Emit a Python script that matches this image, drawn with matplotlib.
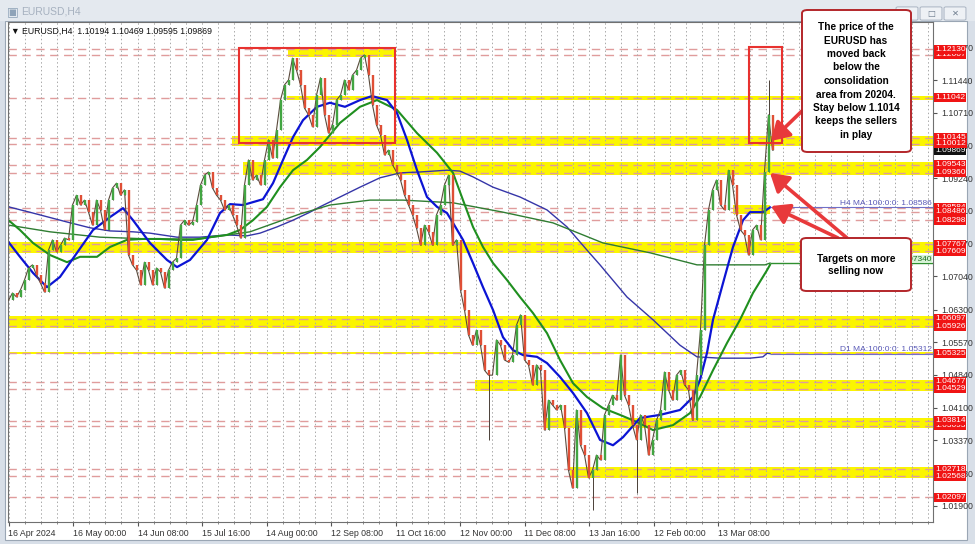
import numpy as np
import matplotlib
matplotlib.use("Agg")
import matplotlib.pyplot as plt
import matplotlib.transforms as mtransforms
from matplotlib.patches import Rectangle, FancyBboxPatch

plt.rcParams['font.family'] = ['Liberation Sans', 'DejaVu Sans']

# EURUSD H4 closes, one sample every 8 bars
bar_step = 8
closes = [1.0651, 1.0667, 1.0658, 1.0674, 1.0696, 1.0723, 1.0730, 1.0707, 1.0689, 1.0669,
          1.0763, 1.0786, 1.0759, 1.0774, 1.0790, 1.0786, 1.0864, 1.0886, 1.0864, 1.0875,
          1.0848, 1.0819, 1.0875, 1.0853, 1.0808, 1.0875, 1.0902, 1.0913, 1.0886, 1.0898,
          1.0752, 1.0730, 1.0718, 1.0685, 1.0736, 1.0718, 1.0685, 1.0723, 1.0714, 1.0678,
          1.0718, 1.0736, 1.0745, 1.0819, 1.0830, 1.0819, 1.0826, 1.0864, 1.0909, 1.0931,
          1.0938, 1.0902, 1.0886, 1.0875, 1.0853, 1.0864, 1.0842, 1.0819, 1.0790, 1.0909,
          1.0965, 1.0920, 1.0931, 1.0909, 1.0965, 1.1010, 1.0969, 1.1032, 1.1099, 1.1133,
          1.1144, 1.1193, 1.1166, 1.1133, 1.1081, 1.1066, 1.1039, 1.1110, 1.1149, 1.1066,
          1.1025, 1.1043, 1.1099, 1.1110, 1.1144, 1.1122, 1.1155, 1.1166, 1.1193, 1.1200,
          1.1155, 1.1088, 1.1043, 1.1021, 1.0976, 1.0987, 1.0954, 1.0938, 1.0920, 1.0886,
          1.0864, 1.0842, 1.0812, 1.0774, 1.0819, 1.0804, 1.0774, 1.0842, 1.0864, 1.0909,
          1.0931, 1.0774, 1.0786, 1.0674, 1.0629, 1.0573, 1.0550, 1.0584, 1.0550, 1.0494,
          1.0483, 1.0483, 1.0562, 1.0550, 1.0517, 1.0512, 1.0528, 1.0595, 1.0618, 1.0517,
          1.0506, 1.0461, 1.0506, 1.0494, 1.0360, 1.0427, 1.0416, 1.0405, 1.0416, 1.0365,
          1.0270, 1.0230, 1.0405, 1.0326, 1.0304, 1.0253, 1.0270, 1.0304, 1.0293, 1.0394,
          1.0416, 1.0438, 1.0427, 1.0528, 1.0438, 1.0416, 1.0371, 1.0338, 1.0394, 1.0371,
          1.0304, 1.0338, 1.0382, 1.0405, 1.0490, 1.0450, 1.0427, 1.0483, 1.0494, 1.0461,
          1.0450, 1.0382, 1.0483, 1.0584, 1.0774, 1.0853, 1.0898, 1.0920, 1.0864, 1.0853,
          1.0942, 1.0909, 1.0842, 1.0808, 1.0797, 1.0752, 1.0808, 1.0819, 1.0786, 1.0938,
          1.1066, 1.0987]
spike_idx = [120, 146, 157, 190]
spike_price = [1.0338, 1.0181, 1.0219, 1.1144]

# moving averages (bar number, price)
h4_100_bar = [0, 23, 49, 77, 103, 137, 169, 203, 229, 249, 283, 317, 337, 363, 397, 423, 443,
              469, 509, 529, 549, 569, 589, 617, 643, 673, 703, 727, 757, 777, 797, 817, 837,
              857, 877, 889, 909, 929, 949, 969, 989, 1009, 1029, 1057, 1077, 1103, 1129, 1157,
              1183, 1209, 1229, 1263, 1303, 1343, 1369, 1383, 1397, 1409, 1429, 1449, 1469,
              1483, 1509, 1523]
h4_100 = [1.0781, 1.0748, 1.0712, 1.0680, 1.0703, 1.0757, 1.0808, 1.0837, 1.0857, 1.0830,
          1.0779, 1.0741, 1.0725, 1.0741, 1.0786, 1.0846, 1.0866, 1.0864, 1.0877, 1.0913,
          1.0965, 1.1016, 1.1054, 1.1084, 1.1093, 1.1084, 1.1099, 1.1108, 1.1099, 1.1070,
          1.1010, 1.0942, 1.0882, 1.0860, 1.0846, 1.0824, 1.0786, 1.0734, 1.0680, 1.0629,
          1.0568, 1.0539, 1.0528, 1.0524, 1.0510, 1.0479, 1.0443, 1.0398, 1.0338, 1.0326,
          1.0344, 1.0387, 1.0394, 1.0405, 1.0434, 1.0472, 1.0533, 1.0607, 1.0689, 1.0770,
          1.0830, 1.0848, 1.0848, 1.08586]
h4_200_bar = [0, 23, 49, 83, 117, 143, 177, 203, 237, 269, 303, 337, 369, 403, 437, 463, 489,
              517, 543, 569, 597, 623, 663, 703, 737, 777, 817, 857, 889, 909, 929, 949, 969,
              997, 1023, 1049, 1077, 1103, 1129, 1157, 1189, 1223, 1257, 1289, 1329, 1363,
              1383, 1409, 1437, 1463, 1489, 1517, 1523]
h4_200 = [1.0830, 1.0808, 1.0779, 1.0752, 1.0736, 1.0748, 1.0748, 1.0770, 1.0786, 1.0788,
          1.0788, 1.0786, 1.0786, 1.0792, 1.0797, 1.0808, 1.0830, 1.0860, 1.0904, 1.0942,
          1.0965, 1.0994, 1.1048, 1.1084, 1.1099, 1.1077, 1.1025, 1.0981, 1.0936, 1.0875,
          1.0815, 1.0770, 1.0734, 1.0696, 1.0658, 1.0622, 1.0577, 1.0517, 1.0465, 1.0434,
          1.0409, 1.0394, 1.0378, 1.0360, 1.0371, 1.0398, 1.0434, 1.0494, 1.0555, 1.0607,
          1.0667, 1.0718, 1.0730]
d1_100_bar = [0, 49, 117, 163, 203, 249, 283, 337, 383, 437, 477, 503, 537, 569, 603, 623,
              663, 703, 743, 783, 823, 877, 903, 929, 969, 1023, 1077, 1117, 1157, 1183, 1237,
              1289, 1343, 1377, 1423, 1483, 1509, 1517, 1523]
d1_100 = [1.0860, 1.0846, 1.0826, 1.0813, 1.0806, 1.0804, 1.0801, 1.0792, 1.0792, 1.0797,
          1.0795, 1.0801, 1.0815, 1.0830, 1.0848, 1.0860, 1.0882, 1.0904, 1.0925, 1.0936,
          1.0938, 1.0942, 1.0940, 1.0927, 1.0904, 1.0882, 1.0853, 1.0815, 1.0763, 1.0730,
          1.0658, 1.0607, 1.0550, 1.0524, 1.0521, 1.0521, 1.0524, 1.0532, 1.05312]
d1_200_bar = [0, 83, 183, 283, 383, 483, 583, 643, 723, 789, 889, 989, 1089, 1189, 1283,
              1377, 1513, 1523]
d1_200 = [1.0819, 1.0804, 1.0792, 1.0788, 1.0788, 1.0804, 1.0844, 1.0864, 1.0875, 1.0875,
          1.0869, 1.0848, 1.0824, 1.0779, 1.0757, 1.0730, 1.0730, 1.0734]

# horizontal levels with their price-scale tags (listed in drawing order)
level_prices = [1.12007, 1.12130, 1.11042, 1.10145, 1.10012, 1.09543, 1.09360, 1.08584,
                1.08486, 1.08298, 1.07767, 1.07609, 1.06097, 1.05926, 1.05325, 1.04677,
                1.04529, 1.03693, 1.03814, 1.02718, 1.02568, 1.02097]
last_price = 1.09869

# yellow zones: top, bottom, first bar, last bar
zone_top = [1.12130, 1.11042, 1.10145, 1.09543, 1.08586, 1.07767, 1.06097, 1.05325, 1.04677,
            1.03814, 1.02718]
zone_bottom = [1.12007, 1.11042, 1.10012, 1.09360, 1.08486, 1.07609, 1.05926, 1.05325,
               1.04529, 1.03693, 1.02568]
zone_from = [559, 557, 447, 469, 1449, 0, 0, 0, 933, 1073, 1123]
zone_to = [773, 1849, 1849, 1849, 1523, 1849, 1849, 1849, 1849, 1849, 1849]

# red boxes: first bar, last bar, low, high
box_from = [461, 1481]
box_to = [773, 1547]
box_low = [1.10029, 1.10029]
box_high = [1.12157, 1.12180]

y_ticks = [1.12170, 1.11440, 1.10710, 1.09980, 1.09240, 1.08510, 1.07770, 1.07040, 1.06300,
           1.05570, 1.04840, 1.04100, 1.03370, 1.02630, 1.01900]
x_labels = ['16 Apr 2024', '16 May 00:00', '14 Jun 08:00', '15 Jul 16:00', '14 Aug 00:00',
            '12 Sep 08:00', '11 Oct 16:00', '12 Nov 00:00', '11 Dec 08:00', '13 Jan 16:00',
            '12 Feb 00:00', '13 Mar 08:00']
bars_per_label = 129

W, H = 975, 544


def fx(px):
    return px / W


def fy(py):
    return 1 - py / H


fig = plt.figure(figsize=(W / 100, H / 100), dpi=100)
fig.patch.set_facecolor('#d8dfe8')
fig.add_artist(Rectangle((fx(5), fy(540)), fx(962), 519 / H, transform=fig.transFigure,
                         fc='white', ec='#9aa6b4', lw=0.8, zorder=0))
fig.add_artist(Rectangle((fx(0), fy(21)), 1, 21 / H, transform=fig.transFigure,
                         fc='#e4e9ef', ec='none', zorder=0))
fig.text(fx(7), fy(12), '\u25a3', fontsize=9, color='#8fa3b8', va='center', family=['DejaVu Sans'])
fig.text(fx(21), fy(12), 'EURUSD,H4', fontsize=7.5, color='#a6b1bf', va='center')
for bx in (898, 922, 946):
    fig.add_artist(FancyBboxPatch((fx(bx), fy(19)), fx(18), 11 / H, transform=fig.transFigure,
                                  boxstyle='round,pad=0.002', fc='#eef1f5', ec='#a9b4c2', lw=0.7))
fig.text(fx(931), fy(13.5), '\u25a1', fontsize=6, color='#6d7c8d', ha='center', va='center',
         family=['DejaVu Sans'])
fig.text(fx(955), fy(13.5), '\u2715', fontsize=6, color='#6d7c8d', ha='center', va='center',
         family=['DejaVu Sans'])

ax = fig.add_axes([fx(8), fy(522), 925 / W, 500 / H])
ax.set_facecolor('white')
ax.set_xlim(-1, 1849)
ax.set_ylim(1.01541, 1.12739)

# grid (vertical only, dotted)
ax.set_xticks(np.arange(0, 1849, bars_per_label / 4), minor=True)
ax.set_xticks(np.arange(len(x_labels)) * bars_per_label)
ax.set_xticklabels(x_labels, ha='left', fontsize=6.3, color='#333333')
ax.grid(axis='x', which='both', color='#a9a9a9', lw=0.7, linestyle=(0, (1.5, 2.5)))
ax.tick_params(axis='x', which='major', length=3, pad=2, color='#555555')
ax.tick_params(axis='x', which='minor', length=1.5, color='#777777')

ax.yaxis.tick_right()
ax.set_yticks(y_ticks)
ax.set_yticklabels([f'{v:.5f}' for v in y_ticks], fontsize=6.3, color='#333333')
ax.tick_params(axis='y', length=3, pad=3, color='#555555')
for s in ax.spines.values():
    s.set_color('#707070')
    s.set_linewidth(0.8)

# yellow zones and dashed levels
for lo, hi, a, b in zip(zone_bottom, zone_top, zone_from, zone_to):
    pad = 0.0003 if lo == 1.05325 else 0.0005
    ax.fill_between([a, b], lo - pad, hi + pad, color='#fbf500', lw=0, zorder=1)
ax.hlines(level_prices, -1, 1849, colors='#e09c9c', lw=1.0, linestyles=(0, (6, 4)), zorder=1.2)

# red boxes
for a, b, lo, hi in zip(box_from, box_to, box_low, box_high):
    ax.add_patch(Rectangle((a, lo), b - a, hi - lo, fill=False, ec='#e8322f', lw=1.5, zorder=4))

# moving averages
ax.plot(d1_100_bar, d1_100, color='#3535a8', lw=1.0, zorder=2)
ax.plot(d1_200_bar, d1_200, color='#2f7d32', lw=1.0, zorder=2)
ax.plot(h4_200_bar, h4_200, color='#1f8f1f', lw=1.5, zorder=2)
ax.plot(h4_100_bar, h4_100, color='#0c14d4', lw=1.6, zorder=2)
ax.hlines(h4_100[-1], h4_100_bar[-1], 1849, colors='#7070c8', lw=0.8, zorder=2)
ax.hlines(d1_100[-1], d1_100_bar[-1], 1849, colors='#7070c8', lw=0.8, zorder=2)
ax.hlines(d1_200[-1], d1_200_bar[-1], 1849, colors='#2f8f2f', lw=1.0, zorder=2)
ax.text(1846, h4_100[-1] + 0.0002, f'H4 MA:100:0:0: {h4_100[-1]:.5f}', ha='right', va='bottom',
        fontsize=6, color='#5a5ab8', zorder=3)
ax.text(1846, d1_100[-1] + 0.0002, f'D1 MA:100:0:0: {d1_100[-1]:.5f}', ha='right', va='bottom',
        fontsize=6, color='#5a5ab8', zorder=3)
ax.text(1846, d1_200[-1] + 0.0001, f'{d1_200[-1]:.5f}', ha='right', va='bottom', fontsize=6,
        color='#1c6e1c', zorder=3,
        bbox=dict(boxstyle='square,pad=0.1', fc='#d6f2d6', ec='none'))

# candles
c = np.array(closes)
o = np.r_[c[0], c[:-1]]
xb = np.arange(len(c)) * bar_step
hi = np.maximum(o, c)
lo = np.minimum(o, c)
for i, p in zip(spike_idx, spike_price):
    hi[i] = max(hi[i], p)
    lo[i] = min(lo[i], p)
ax.plot(xb, c, color='#5a4a3c', lw=0.8, zorder=3)
ax.vlines(xb, lo, hi, colors='#4a4038', lw=0.7, zorder=3)
up = c >= o
ax.vlines(xb[up], o[up], c[up], colors='#42a542', lw=1.7, zorder=3.1)
ax.vlines(xb[~up], c[~up], o[~up], colors='#df4f36', lw=1.7, zorder=3.1)

# price-scale tags
tr = mtransforms.blended_transform_factory(ax.transAxes, ax.transData)
tags = sorted(level_prices + [last_price], key=lambda p: level_prices.index(p) if p in level_prices
              else level_prices.index(1.10012) - 0.5)
for p in tags:
    fc = '#111111' if p == last_price else '#f01414'
    ax.text(1.002, p, f'{p:.5f}', transform=tr, ha='left', va='center', fontsize=6,
            color='white', clip_on=False, zorder=20,
            bbox=dict(boxstyle='square,pad=0.12', fc=fc, ec='none'))

fig.text(fx(11), fy(31), '\u25bc EURUSD,H4  1.10194 1.10469 1.09595 1.09869', fontsize=6.3,
         color='#111111', va='center')

# callouts
fig.add_artist(FancyBboxPatch((fx(802), fy(152)), fx(109), 142 / H, transform=fig.transFigure,
                              boxstyle='round,pad=0,rounding_size=0.006', fc='white',
                              ec='#b3262a', lw=1.4, zorder=30))
lines1 = ['The price of the', 'EURUSD has', 'moved back', 'below the', 'consolidation',
          'area from 20204.', 'Stay below 1.1014', 'keeps the sellers', 'in play']
for i, t in enumerate(lines1):
    fig.text(fx(856), fy(27 + 13.5 * i), t, ha='center', va='center', fontsize=7.3,
             fontweight='bold', color='black', zorder=31)
fig.add_artist(FancyBboxPatch((fx(801), fy(291)), fx(110), 53 / H, transform=fig.transFigure,
                              boxstyle='round,pad=0,rounding_size=0.006', fc='white',
                              ec='#b3262a', lw=1.4, zorder=30))
for i, t in enumerate(['Targets on more', 'selling now']):
    fig.text(fx(856), fy(259 + 12 * i), t, ha='center', va='center', fontsize=7.3,
             fontweight='bold', color='black', zorder=31)

arrow_kw = dict(arrowstyle='-|>,head_length=0.9,head_width=0.55', color='#e8393b', lw=2.6,
                shrinkA=0, shrinkB=0, mutation_scale=12)
for tip, tail in [((1525, 1.10074), (803, H - 110)), ((1523, 1.09357), (847, H - 238)),
                  ((1525, 1.08618), (838, H - 238))]:
    ax.annotate('', xy=tip, xycoords='data', xytext=tail, textcoords='figure pixels',
                arrowprops=arrow_kw, zorder=29, annotation_clip=False)

fig.savefig('out.png', dpi=100)
